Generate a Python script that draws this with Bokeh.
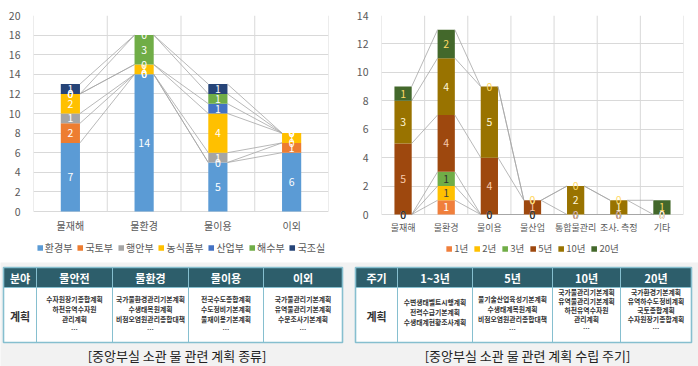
from bokeh.plotting import figure
from bokeh.models import FixedTicker, Range1d, Legend, LegendItem, Spacer
from bokeh.layouts import row, column
from bokeh.embed import file_html
from bokeh.resources import INLINE
from bokeh.core.properties import value

FONT = "Noto Sans CJK KR"
BG = "#F2F2F2"

# ---------------- left chart data ----------------
cats_left = ["물재해", "물환경", "물이용", "이외"]
ministries = ["환경부", "국토부", "행안부", "농식품부", "산업부", "해수부", "국조실"]
v_me = [7, 14, 5, 6]
v_molit = [2, 0, 0, 1]
v_mois = [1, 0, 1, 0]
v_mafra = [2, 1, 4, 1]
v_motie = [0, 0, 1, 0]
v_mof = [0, 3, 1, 0]
v_opm = [1, 0, 1, 0]
left_values = [v_me, v_molit, v_mois, v_mafra, v_motie, v_mof, v_opm]
left_colors = ["#5B9BD5", "#ED7D31", "#A5A5A5", "#FFC000", "#4472C4", "#70AD47", "#264478"]
left_label_colors = ["#FFFFFF"] * 7
left_yticks = [0, 2, 4, 6, 8, 10, 12, 14, 16, 18, 20]

# ---------------- right chart data ----------------
cats_right = ["물재해", "물환경", "물이용", "물산업", "통합물관리", "조사. 측정", "기타"]
periods = ["1년", "2년", "3년", "5년", "10년", "20년"]
v_1y = [0, 1, 0, 0, 0, 0, 0]
v_2y = [0, 1, 0, 0, 0, 0, 0]
v_3y = [0, 1, 0, 0, 0, 0, 0]
v_5y = [5, 4, 4, 1, 0, 0, 0]
v_10y = [3, 4, 5, 0, 2, 1, 0]
v_20y = [1, 2, 0, 0, 0, 0, 1]
right_values = [v_1y, v_2y, v_3y, v_5y, v_10y, v_20y]
right_colors = ["#F07F3C", "#FFC000", "#70AD47", "#9E480E", "#997300", "#43682B"]
right_label_colors = ["#FFFFFF", "#404040", "#303030", "#F8CBAD", "#FFF6DA", "#FFD966"]
right_yticks = [0, 2, 4, 6, 8, 10, 12, 14]

# ---------------- tables ----------------
left_head = ["분야", "물안전", "물환경", "물이용", "이외"]
left_body = [
    ["계획"],
    ["수자원장기종합계획", "하천유역수자원", "관리계획", "…"],
    ["국가물환경관리기본계획", "수생태복원계획", "비점오염원관리종합대책", "…"],
    ["전국수도종합계획", "수도정비기본계획", "물재이용기본계획", "…"],
    ["국가물관리기본계획", "유역물관리기본계획", "수문조사기본계획", "…"],
]
right_head = ["주기", "1~3년", "5년", "10년", "20년"]
right_body = [
    ["계획"],
    ["수변생태벨트시행계획", "전력수급기본계획", "수생태계현황조사계획"],
    ["물기술산업육성기본계획", "수생태계복원계획", "비점오염원관리종합대책", "…"],
    ["국가물관리기본계획", "유역물관리기본계획", "하천유역수자원", "관리계획", "…"],
    ["국가환경기본계획", "유역하수도정비계획", "국토종합계획", "수자원장기종합계획", "…"],
]
caption_left = "[중앙부실 소관  물 관련 계획 종류]"
caption_right = "[중앙부실 소관 물 관련 계획 수립 주기]"


def stacked_chart(cats, names, values, colors, label_colors, ymax, yticks, bar_w,
                  width, height, b_left, b_right, top_px, zero_px, cat_px,
                  cat_font, legend_font, legend_spacing, legend_margin):
    n = len(cats)
    xs = list(range(n))
    ppu = (zero_px - top_px) / ymax          # pixels per unit
    ymin = -(height - zero_px) / ppu         # frame reaches the figure bottom
    p = figure(width=width, height=height, x_range=Range1d(-0.5, n - 0.5),
               y_range=Range1d(ymin, ymax), output_backend="svg", toolbar_location=None,
               min_border_left=b_left, min_border_right=b_right,
               min_border_top=top_px, min_border_bottom=0)
    p.background_fill_color = "white"
    p.border_fill_color = "white"
    p.outline_line_color = None
    p.xaxis.visible = False
    p.xgrid.visible = False
    p.ygrid.ticker = FixedTicker(ticks=yticks)
    p.ygrid.grid_line_color = "#D9D9D9"

    p.yaxis.ticker = FixedTicker(ticks=yticks)
    p.yaxis.axis_line_color = None
    p.yaxis.major_tick_line_color = None
    p.yaxis.minor_tick_line_color = None
    p.yaxis.major_label_text_font = FONT
    p.yaxis.major_label_text_color = "#595959"
    p.yaxis.major_label_text_font_size = "10.5px"
    p.yaxis.major_label_standoff = 7

    # vertical gridlines between categories
    bounds = [i - 0.5 for i in range(n + 1)]
    p.segment(x0=bounds, y0=[0] * len(bounds), x1=bounds, y1=[ymax] * len(bounds),
              line_color="#D9D9D9", line_width=1)

    # category labels
    p.text(x=xs, y=[-(cat_px - zero_px) / ppu] * n, text=cats, text_align="center",
           text_baseline="middle", text_color="#595959", text_font=value(FONT),
           text_font_size=cat_font)

    bottoms = [0] * n
    items = []
    labels = []
    for name, vals, col, lcol in zip(names, values, colors, label_colors):
        tops = [b + v for b, v in zip(bottoms, vals)]
        r = p.vbar(x=xs, width=bar_w, bottom=bottoms, top=tops,
                   fill_color=col, line_color=None)
        items.append(LegendItem(label=name, renderers=[r]))
        p.segment(x0=[x + bar_w / 2 for x in xs[:-1]], y0=tops[:-1],
                  x1=[x - bar_w / 2 for x in xs[1:]], y1=tops[1:],
                  line_color="#A6A6A6", line_width=0.8)
        mids = [(b + t) / 2 for b, t in zip(bottoms, tops)]
        labels.append((mids, [str(v) for v in vals], lcol))
        bottoms = tops
    for mids, txt, lcol in labels:
        p.text(x=xs, y=mids, text=txt, text_color=lcol, text_align="center",
               text_baseline="middle", text_font=value(FONT), text_font_size="10.5px")

    legend = Legend(items=items, orientation="horizontal", location="bottom_center",
                    glyph_width=7, glyph_height=7, label_standoff=2, label_width=8,
                    spacing=legend_spacing, padding=2, margin=legend_margin,
                    border_line_color=None, background_fill_alpha=0,
                    label_text_font=FONT, label_text_font_size=legend_font,
                    label_text_color="#595959", label_height=12)
    p.add_layout(legend)
    return p


# left panel: page x 5..340, y 5..262
left = stacked_chart(cats_left, ministries, left_values, left_colors, left_label_colors,
                     20, left_yticks, 0.26, 335, 257, 25, 12, 10, 206, 220,
                     "10px", "10px", 4, 7)
# right panel: page x 352..692, y 5..262
right = stacked_chart(cats_right, periods, right_values, right_colors, right_label_colors,
                      14, right_yticks, 0.40, 340, 257, 29, 9, 10, 209, 222,
                      "9px", "9.5px", 5, 7)

# ---------------- bottom strip with tables and captions ----------------
tab = figure(width=698, height=104, x_range=Range1d(0, 698), y_range=Range1d(366, 262),
             output_backend="svg", toolbar_location=None, x_axis_type=None,
             y_axis_type=None, min_border=0)
tab.background_fill_color = BG
tab.border_fill_color = BG
tab.outline_line_color = None
tab.grid.visible = False

HEAD_FILL = "#2D5E6B"
GRID = "#86BFCF"
head_top, head_bot, body_bot = 267, 287, 342


def draw_table(cols, heads, bodies):
    lefts, rights = cols[:-1], cols[1:]
    tab.quad(left=lefts, right=rights, top=[head_top] * len(lefts),
             bottom=[head_bot] * len(lefts), fill_color=HEAD_FILL, line_color=GRID,
             line_width=1)
    tab.quad(left=lefts, right=rights, top=[head_bot] * len(lefts),
             bottom=[body_bot] * len(lefts), fill_color="white", line_color=GRID,
             line_width=1)
    tab.quad(left=[cols[0]], right=[cols[-1]], top=[head_top], bottom=[body_bot],
             fill_color=None, line_color=GRID, line_width=1.6)
    cx = [(a + b) / 2 for a, b in zip(lefts, rights)]
    tab.text(x=cx, y=[(head_top + head_bot) / 2 + 0.5] * len(cx), text=heads,
             text_color="white", text_align="center", text_baseline="middle",
             text_font=value(FONT), text_font_size="11px", text_font_style="bold")
    tab.text(x=[cx[0]], y=[(head_bot + body_bot) / 2 + 1], text=bodies[0],
             text_color="#333333", text_align="center", text_baseline="middle",
             text_font=value(FONT), text_font_size="11px", text_font_style="bold")
    xs, ys, ts = [], [], []
    for x, lines in zip(cx[1:], bodies[1:]):
        nl = len(lines)
        if nl >= 5:
            sp, center = 9.2, 309.5
        else:
            sp, center = 9.9, 313.5 - (4 - nl) * 2
        y0 = center - (nl - 1) * sp / 2
        for k, t in enumerate(lines):
            xs.append(x)
            ys.append(y0 + k * sp)
            ts.append(t)
    tab.text(x=xs, y=ys, text=ts, text_color="#333333", text_align="center",
             text_baseline="middle", text_font=value(FONT), text_font_size="6.8px",
             text_font_style="bold")


draw_table([3, 36, 112, 188, 263, 342], left_head, left_body)
draw_table([355, 397, 472, 552, 620, 691], right_head, right_body)

tab.text(x=[178, 527], y=[354.5, 354.5], text=[caption_left, caption_right],
         text_color="#222222", text_align="center", text_baseline="middle",
         text_font=value(FONT), text_font_size="13px")

top_row = row(Spacer(width=5, height=257), left, Spacer(width=12, height=257), right,
              Spacer(width=6, height=257))
layout = column(Spacer(width=698, height=5), top_row, tab)

html = file_html(layout, INLINE)
if "<body>" in html:
    html = html.replace("<body>", '<body style="background-color:%s;">' % BG, 1)
open("out.html", "w").write(html)
